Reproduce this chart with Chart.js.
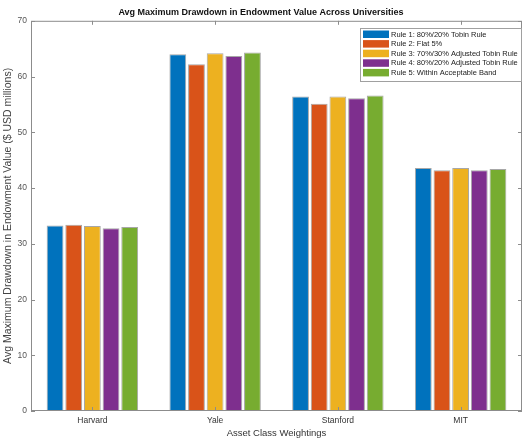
<!DOCTYPE html>
<html>
<head>
<meta charset="utf-8">
<script src="https://cdn.jsdelivr.net/npm/chart.js@4/dist/chart.umd.min.js"></script>
<style>
  html, body { margin: 0; padding: 0; background: #fff; }
  #wrap { width: 524px; height: 439px; position: relative; }
</style>
</head>
<body>
<div id="wrap"><canvas id="chart"></canvas></div>
<script>
const universities = ['Harvard', 'Yale', 'Stanford', 'MIT'];
const ruleNames = [
  'Rule 1: 80%/20% Tobin Rule',
  'Rule 2: Flat 5%',
  'Rule 3: 70%/30% Adjusted Tobin Rule',
  'Rule 4: 80%/20% Adjusted Tobin Rule',
  'Rule 5: Within Acceptable Band'
];
const rule1 = [33.3, 64.0, 56.4, 43.6];
const rule2 = [33.4, 62.2, 55.1, 43.2];
const rule3 = [33.2, 64.2, 56.4, 43.6];
const rule4 = [32.8, 63.7, 56.1, 43.2];
const rule5 = [33.0, 64.3, 56.6, 43.4];
const yTicks = [0, 10, 20, 30, 40, 50, 60, 70];

const colors = ['#0072BD', '#D95319', '#EDB120', '#7E2F8E', '#77AC30'];
const font = 'Helvetica, Arial, "Liberation Sans", sans-serif';
const axisGrey = '#8c8c8c';

// box, inward ticks and legend like matlab
const matlabAxes = {
  id: 'matlabAxes',
  afterDraw(chart) {
    const { ctx, chartArea: a, scales } = chart;
    ctx.save();
    ctx.strokeStyle = axisGrey;
    ctx.lineWidth = 1;
    ctx.strokeRect(a.left + 0.5, a.top + 0.5, a.right - a.left - 1, a.bottom - a.top - 1);
    ctx.beginPath();
    universities.forEach((u, i) => {
      const x = Math.round(scales.x.getPixelForValue(i)) + 0.5;
      ctx.moveTo(x, a.bottom); ctx.lineTo(x, a.bottom - 4);
      ctx.moveTo(x, a.top); ctx.lineTo(x, a.top + 4);
    });
    yTicks.forEach(v => {
      const y = Math.round(scales.y.getPixelForValue(v)) + 0.5;
      ctx.moveTo(a.left, y); ctx.lineTo(a.left + 4, y);
      ctx.moveTo(a.right, y); ctx.lineTo(a.right - 4, y);
    });
    ctx.stroke();

    // legend
    const lx = 360, ly = 28, lw = 161, lh = 53;
    ctx.fillStyle = '#fff';
    ctx.fillRect(lx, ly, lw, lh);
    ctx.strokeStyle = '#a0a0a0';
    ctx.strokeRect(lx + 0.5, ly + 0.5, lw, lh);
    ctx.font = '7.5px ' + font;
    ctx.textBaseline = 'middle';
    ruleNames.forEach((name, i) => {
      const y = ly + 6 + i * 9.6;
      ctx.fillStyle = colors[i];
      ctx.fillRect(lx + 3, y - 3.5, 26, 7.5);
      ctx.fillStyle = '#222';
      ctx.fillText(name, lx + 31, y + 0.5);
    });
    ctx.restore();
  }
};

const series = [rule1, rule2, rule3, rule4, rule5];

new Chart(document.getElementById('chart'), {
  type: 'bar',
  data: {
    labels: universities,
    datasets: series.map((d, i) => ({
      label: ruleNames[i],
      data: d,
      backgroundColor: colors[i],
      borderColor: 'rgba(60,60,60,0.45)',
      borderWidth: 1,
      barPercentage: 0.9,
      categoryPercentage: 0.76
    }))
  },
  options: {
    responsive: true,
    maintainAspectRatio: false,
    animation: false,
    layout: { padding: { left: 0, right: 2, top: 0, bottom: 0 } },
    plugins: {
      legend: { display: false },
      tooltip: { enabled: false },
      title: {
        display: true,
        text: 'Avg Maximum Drawdown in Endowment Value Across Universities',
        color: '#111',
        font: { family: font, size: 9, weight: 'bold' },
        padding: { top: 7, bottom: 3 }
      }
    },
    scales: {
      x: {
        grid: { display: false, drawTicks: false },
        border: { display: false },
        ticks: { color: '#333', font: { family: font, size: 8.5 }, padding: 5 },
        title: {
          display: true, text: 'Asset Class Weightings', color: '#333',
          font: { family: font, size: 9.5 }, padding: { top: 0, bottom: 0 }
        },
        afterFit(scale) { scale.height = 28; }
      },
      y: {
        min: 0, max: 70,
        afterBuildTicks(scale) { scale.ticks = yTicks.map(v => ({ value: v })); },
        grid: { display: false, drawTicks: false },
        border: { display: false },
        ticks: { color: '#555', font: { family: font, size: 8.5 }, padding: 4 },
        title: {
          display: true, text: 'Avg Maximum Drawdown in Endowment Value ($ USD millions)',
          color: '#444', font: { family: font, size: 10.5 }, padding: { top: 2, bottom: 0 }
        },
        afterFit(scale) { scale.width = 31; }
      }
    }
  },
  plugins: [matlabAxes]
});
</script>
</body>
</html>
